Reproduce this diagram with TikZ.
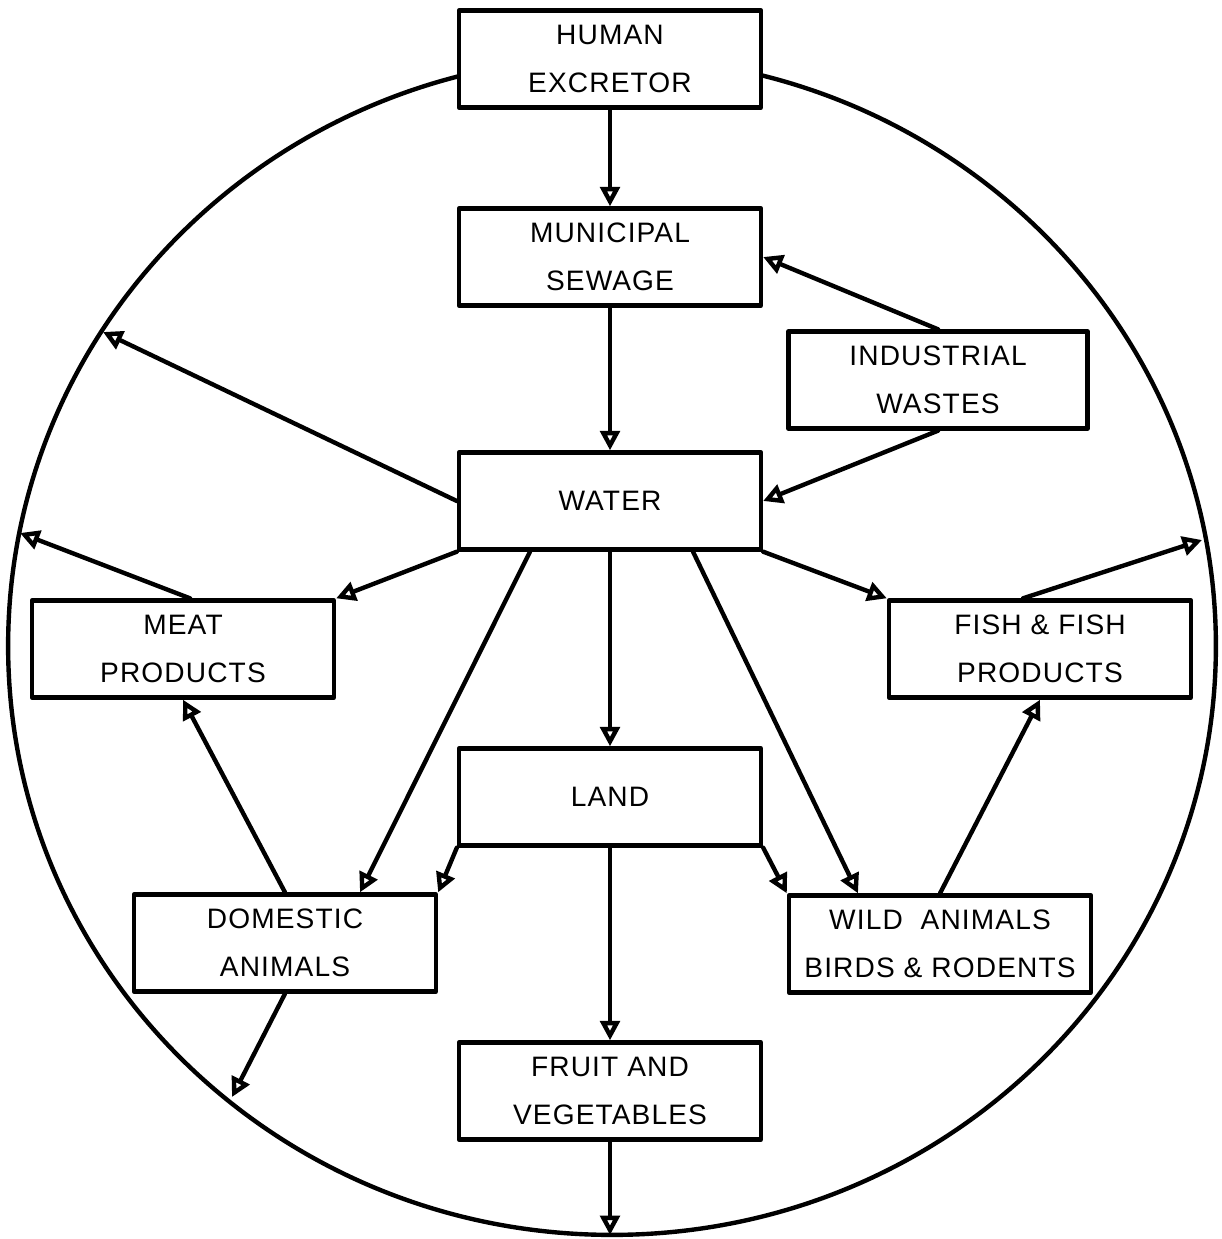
\documentclass[tikz,border=0pt]{standalone}
\usepackage{fontspec}
\setmainfont[LetterSpace=4]{Liberation Sans}
\usetikzlibrary{arrows.meta,calc}
\begin{document}
\begin{tikzpicture}[x=0.02cm,y=-0.02cm,line join=round,line cap=round,line width=2.5pt,
	>={Triangle[open,length=11pt,width=11pt]},font=\fontsize{16}{27}\selectfont,
	box/.style={draw,fill=white,align=center,minimum width=6.04cm,minimum height=1.94cm,inner sep=0pt}]
	\useasboundingbox (0,0) rectangle (1221,1239);
	\draw (612,646) ellipse [x radius=12.08cm,y radius=11.78cm];
	\coordinate (c1) at (103,332);
	\coordinate (c2) at (20,533);
	\coordinate (c3) at (1202,540);
	\coordinate (c4) at (232,1097);
	\coordinate (c5) at (610,1235);
	\node[box] (human) at (610,59) {HUMAN\\EXCRETOR};
	\node[box] (sewage) at (610,257) {MUNICIPAL\\SEWAGE};
	\node[box,minimum width=5.98cm] (industry) at (938,380) {INDUSTRIAL\\WASTES};
	\node[box] (water) at (610,501) {WATER};
	\node[box] (meat) at (183,649) {MEAT\\PRODUCTS};
	\node[box] (fish) at (1040,649) {FISH \& FISH\\PRODUCTS};
	\node[box] (land) at (610,797) {LAND};
	\node[box] (domestic) at (285,943) {DOMESTIC\\ANIMALS};
	\node[box] (wild) at (940,944) {WILD\ \ ANIMALS\\BIRDS \& RODENTS};
	\node[box] (fruit) at (610,1091) {FRUIT AND\\VEGETABLES};
	\draw[->] (human.south)--(sewage.north);
	\draw[->] (sewage.south)--(water.north);
	\draw[->] (industry.north)--(sewage.east);
	\draw[->] (industry.south)--(water.east);
	\draw[->] (water.west)--(c1);
	\draw[->] ($(meat.north)+(7,0)$)--(c2);
	\draw[->] (water.south west)--(meat.north east);
	\draw[->] ($(water.south)+(-80,0)$)--($(domestic.north)+(75,0)$);
	\draw[->] (water.south)--(land.north);
	\draw[->] ($(water.south)+(83,0)$)--($(wild.north)+(-82,0)$);
	\draw[->] (water.south east)--(fish.north west);
	\draw[->] ($(fish.north)+(-17,0)$)--(c3);
	\draw[->] (land.south west)--(domestic.north east);
	\draw[->] (land.south east)--(wild.north west);
	\draw[->] (land.south)--(fruit.north);
	\draw[->] (domestic.north)--(meat.south);
	\draw[->] (wild.north)--(fish.south);
	\draw[->] (domestic.south)--(c4);
	\draw[->] (fruit.south)--(c5);
\end{tikzpicture}
\end{document}
